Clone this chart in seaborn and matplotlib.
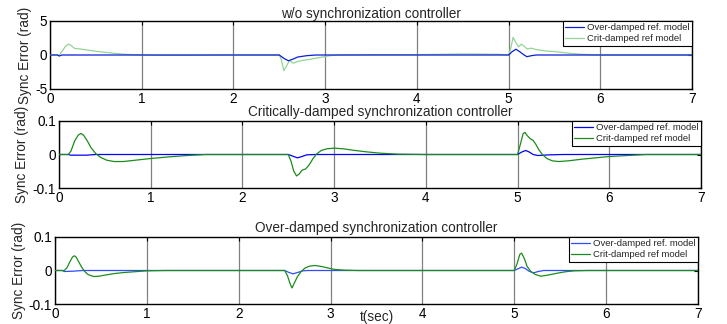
import numpy as np
import pandas as pd
import matplotlib
matplotlib.use("Agg")
import matplotlib.pyplot as plt
import seaborn as sns

# ---------------- data ----------------
titles = ["w/o synchronization controller",
          "Critically-damped synchronization controller",
          "Over-damped synchronization controller"]
series_labels = ["Over-damped ref. model", "Crit-damped ref model"]
x_ticks = [0, 1, 2, 3, 4, 5, 6, 7]
y_ticks_1 = [-5, 0, 5]
y_ticklabels_1 = ["-5", "0", "5"]
y_ticks_23 = [-0.1, 0, 0.1]
y_ticklabels_23 = ["-0.1", "0", "0.1"]

# panel 1: without synchronization controller
t_over_1 = [0, 0.08, 0.10, 0.13, 2.50, 2.55, 2.60, 2.65, 2.70, 2.80, 2.90,
            5.00, 5.04, 5.08, 5.12, 5.17, 5.20, 5.25, 5.30, 7.00]
v_over_1 = [0, 0, -0.15, 0, 0, -0.5, -0.85, -0.6, -0.3, -0.1, 0,
            0, 0.5, 0.85, 0.5, 0.0, -0.25, -0.1, 0, 0]
t_crit_1 = [0, 0.10, 0.13, 0.17, 0.20, 0.23, 0.27, 0.32, 0.40, 0.50, 0.60, 0.70,
            0.80, 0.90, 1.00, 1.20, 1.50, 2.00, 2.50, 2.52, 2.55, 2.58, 2.61,
            2.65, 2.69, 2.75, 2.85, 2.95, 3.05, 3.15, 3.50, 4.00, 4.50, 4.90,
            5.00, 5.02, 5.05, 5.08, 5.11, 5.14, 5.17, 5.20, 5.25, 5.30, 5.40,
            5.50, 5.60, 5.70, 5.80, 6.00, 7.00]
v_crit_1 = [0, 0.0, 0.5, 1.3, 1.6, 1.4, 0.95, 0.9, 0.75, 0.55, 0.4, 0.25,
            0.12, 0.05, 0.0, -0.05, -0.05, 0.0, 0.0, -0.6, -2.3, -1.6, -0.8,
            -1.2, -1.0, -0.8, -0.6, -0.35, -0.1, 0.0, 0.05, 0.05, 0.15, 0.1,
            0.0, 0.8, 2.6, 1.8, 1.2, 1.6, 1.3, 0.9, 1.0, 0.8, 0.6,
            0.5, 0.35, 0.2, 0.1, 0.0, 0.0]

# panel 2: critically-damped synchronization controller
t_over_2 = [0, 0.10, 0.13, 0.30, 0.40, 2.50, 2.54, 2.60, 2.65, 2.70, 2.80,
            5.00, 5.05, 5.09, 5.13, 5.17, 5.22, 5.35, 5.50, 7.00]
v_over_2 = [0, 0, -0.002, -0.002, 0, 0, -0.004, -0.010, -0.006, -0.001, 0.0,
            0, 0.008, 0.012, 0.007, 0.0, -0.003, -0.001, 0, 0]
t_crit_2 = [0, 0.10, 0.13, 0.17, 0.21, 0.24, 0.27, 0.31, 0.35, 0.40, 0.45,
            0.52, 0.60, 0.70, 0.80, 0.90, 1.00, 1.20, 1.40, 1.60, 2.50, 2.53,
            2.56, 2.59, 2.62, 2.65, 2.69, 2.73, 2.77, 2.81, 2.86, 2.92, 3.00,
            3.10, 3.20, 3.35, 3.50, 3.70, 4.00, 5.00, 5.03, 5.06, 5.08, 5.11,
            5.14, 5.17, 5.20, 5.23, 5.27, 5.32, 5.38, 5.45, 5.55, 5.70, 5.85,
            6.00, 6.20, 6.40, 7.00]
v_crit_2 = [0, 0.0, 0.01, 0.04, 0.058, 0.063, 0.057, 0.04, 0.02, 0.003, -0.008,
            -0.017, -0.021, -0.021, -0.018, -0.015, -0.012, -0.007, -0.003, 0.0, 0.0, -0.02,
            -0.05, -0.064, -0.058, -0.047, -0.043, -0.03, -0.012, 0.002, 0.012, 0.017, 0.019,
            0.017, 0.013, 0.008, 0.004, 0.001, 0.0, 0.0, 0.03, 0.062, 0.066, 0.055,
            0.047, 0.042, 0.03, 0.015, 0.0, -0.012, -0.019, -0.021, -0.019, -0.014, -0.01,
            -0.006, -0.003, 0.0, 0.0]

# panel 3: over-damped synchronization controller
t_over_3 = [0, 0.08, 0.10, 0.20, 0.30, 2.50, 2.54, 2.59, 2.64, 2.70, 2.75,
            5.00, 5.04, 5.08, 5.12, 5.16, 5.21, 5.26, 5.32, 7.00]
v_over_3 = [0, 0, -0.003, -0.002, 0, 0, -0.005, -0.010, -0.006, -0.001, 0,
            0, 0.005, 0.010, 0.006, -0.002, -0.007, -0.003, 0, 0]
t_crit_3 = [0, 0.10, 0.13, 0.16, 0.19, 0.21, 0.23, 0.26, 0.29, 0.32, 0.36,
            0.42, 0.48, 0.56, 0.65, 0.75, 0.85, 1.00, 1.20, 2.50, 2.53, 2.56,
            2.58, 2.61, 2.64, 2.68, 2.72, 2.77, 2.83, 2.90, 2.98, 3.05, 3.15,
            3.30, 5.00, 5.03, 5.06, 5.08, 5.11, 5.14, 5.18, 5.23, 5.29, 5.36,
            5.45, 5.55, 5.65, 5.80, 7.00]
v_crit_3 = [0, 0.0, 0.008, 0.025, 0.04, 0.044, 0.04, 0.025, 0.01, -0.002, -0.012,
            -0.018, -0.017, -0.013, -0.009, -0.006, -0.004, -0.001, 0.0, 0.0, -0.015, -0.04,
            -0.052, -0.035, -0.018, -0.003, 0.007, 0.013, 0.015, 0.012, 0.007, 0.003, 0.001,
            0.0, 0.0, 0.02, 0.048, 0.052, 0.035, 0.012, -0.003, -0.012, -0.017, -0.014,
            -0.009, -0.004, -0.001, 0.0, 0.0]

# ---------------- style ----------------
sns.set_style("white")
plt.rcParams["font.family"] = ["Liberation Sans", "DejaVu Sans"]

fig = plt.figure(figsize=(7.27, 3.24), dpi=100)
W, H = 727, 324

def px_axes(l, t, r, b):
    return fig.add_axes([l / W, (H - b) / H, (r - l) / W, (b - t) / H])

axes = [px_axes(50, 21, 692, 89), px_axes(59, 121, 701, 188), px_axes(55, 237, 698, 304)]

panels = [
    (t_over_1, v_over_1, t_crit_1, v_crit_1, "#0a1fd8", "#94d494", (-5, 5), y_ticks_1, y_ticklabels_1, True),
    (t_over_2, v_over_2, t_crit_2, v_crit_2, "#0000ff", "#1b8c1b", (-0.1, 0.1), y_ticks_23, y_ticklabels_23, False),
    (t_over_3, v_over_3, t_crit_3, v_crit_3, "#2f4cff", "#1b8c1b", (-0.1, 0.1), y_ticks_23, y_ticklabels_23, False),
]
ylabel_x = [-0.028, -0.047, -0.045]
title_pad = [2.5, 3.5, 3.5]
FS = 9.8

for i, (ax, p) in enumerate(zip(axes, panels)):
    to, vo, tc, vc, cblue, cgreen, ylim, yt, ytl, blue_top = p
    d_over = pd.DataFrame({"t": to, "v": vo})
    d_crit = pd.DataFrame({"t": tc, "v": vc})
    sns.lineplot(data=d_over, x="t", y="v", ax=ax, color=cblue, lw=0.9,
                 estimator=None, sort=False, label=series_labels[0],
                 zorder=4 if blue_top else 2)
    sns.lineplot(data=d_crit, x="t", y="v", ax=ax, color=cgreen, lw=0.9,
                 estimator=None, sort=False, label=series_labels[1], zorder=3)
    ax.set_xlim(0, 7)
    ax.set_ylim(*ylim)
    ax.set_xticks(x_ticks)
    ax.set_xticklabels([str(x) for x in x_ticks])
    ax.set_yticks(yt)
    ax.set_yticklabels(ytl)
    ax.tick_params(direction="in", length=3, width=0.8, top=True, right=True,
                   labelsize=FS, pad=2, colors="black")
    ax.grid(axis="x", color="0.5", lw=0.9)
    ax.grid(axis="y", visible=False)
    for s in ax.spines.values():
        s.set_visible(True)
        s.set_color("black")
        s.set_linewidth(1.0)
    ax.set_title(titles[i], fontsize=FS, pad=title_pad[i])
    ax.set_ylabel("Sync Error (rad)", fontsize=FS)
    ax.yaxis.set_label_coords(ylabel_x[i], 0.5)
    if i == 2:
        ax.set_xlabel("t(sec)", fontsize=FS)
        ax.xaxis.set_label_coords(0.5, -0.085)
    else:
        ax.set_xlabel("")
    leg = ax.legend(loc="upper right", fontsize=6.8, frameon=True, fancybox=False,
                    borderaxespad=0, handlelength=2.0, handletextpad=0.3,
                    borderpad=0.25, labelspacing=0.2, framealpha=1)
    leg.get_frame().set_edgecolor("black")
    leg.get_frame().set_linewidth(0.8)

fig.savefig("out.png", dpi=100)
